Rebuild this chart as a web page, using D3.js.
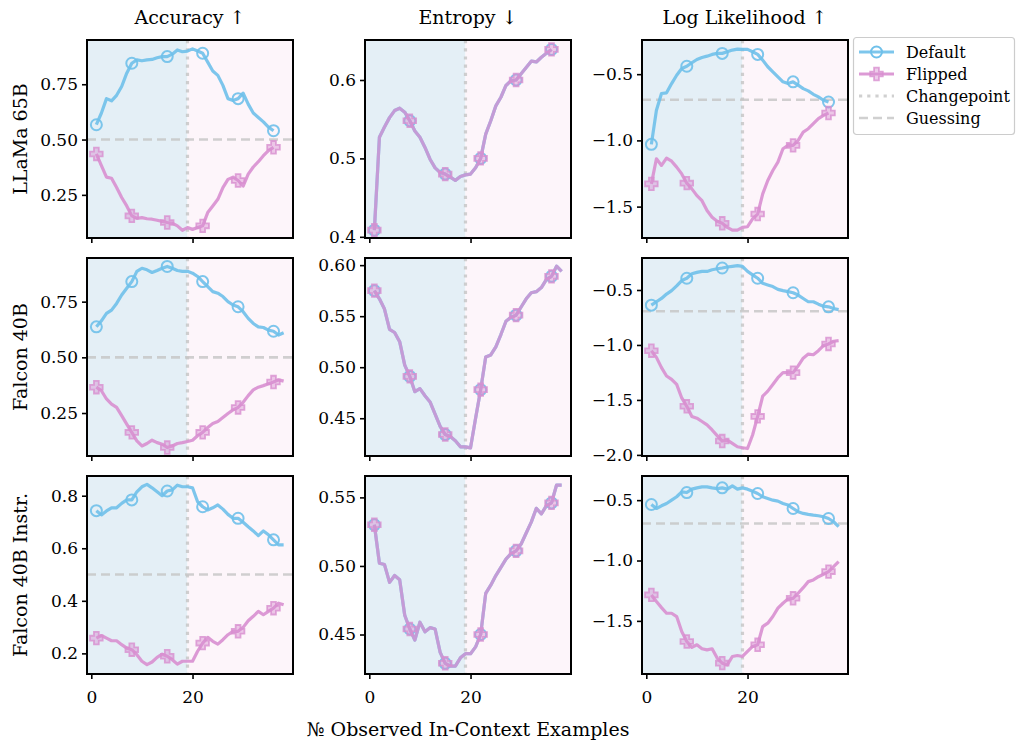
<!DOCTYPE html>
<html><head><meta charset="utf-8">
<script src="https://cdn.jsdelivr.net/npm/d3@7"></script>
<style>
body{margin:0;background:#fff;}
text{font-family:"DejaVu Serif",serif;fill:#000;}
</style></head>
<body>
<svg id="chart" width="1018" height="744"></svg>
<script>
const metrics = ["Accuracy ↑", "Entropy ↓", "Log Likelihood ↑"];
const models = ["LLaMa 65B", "Falcon 40B", "Falcon 40B Instr."];
const seriesNames = ["Default", "Flipped"];
const changepoint = 19;
const guessAcc = 0.5;
const guessLL = Math.log(0.5);
const xTicks = [0, 20];
const xDomain = [-0.85, 39.85];
const markEvery = 7;

// y ticks per [row][col]
const yTicks = [
  [[0.25, 0.50, 0.75], [0.4, 0.5, 0.6], [-1.5, -1.0, -0.5]],
  [[0.25, 0.50, 0.75], [0.45, 0.50, 0.55, 0.60], [-2.0, -1.5, -1.0, -0.5]],
  [[0.2, 0.4, 0.6, 0.8], [0.45, 0.50, 0.55], [-1.5, -1.0, -0.5]]
];
const yTickDecimals = [[2, 1, 1], [2, 2, 1], [1, 2, 1]];
const yLimits = [
  [[0.055, 0.95], [0.3985, 0.651], [-1.737, -0.242]],
  [[0.057, 0.946], [0.413, 0.607], [-2.01, -0.209]],
  [[0.1215, 0.875], [0.4212, 0.5656], [-1.94, -0.30]]
];

// ---- LLaMa 65B ----
const llamaAccDefault = [0.567,0.62,0.685,0.675,0.70,0.74,0.80,0.845,0.86,0.856,0.86,0.862,0.87,0.875,0.875,0.886,0.905,0.897,0.90,0.91,0.90,0.89,0.85,0.81,0.79,0.745,0.685,0.677,0.685,0.71,0.66,0.62,0.60,0.58,0.556,0.54];
const llamaAccFlipped = [0.435,0.382,0.33,0.325,0.283,0.238,0.20,0.155,0.144,0.147,0.142,0.14,0.135,0.13,0.125,0.122,0.11,0.09,0.102,0.094,0.102,0.11,0.17,0.20,0.23,0.283,0.32,0.33,0.315,0.29,0.344,0.376,0.40,0.427,0.45,0.465];
const llamaEntropy = [0.4085,0.527,0.54,0.552,0.561,0.564,0.559,0.548,0.535,0.527,0.514,0.499,0.488,0.482,0.48,0.476,0.472,0.477,0.479,0.48,0.488,0.50,0.531,0.548,0.567,0.578,0.593,0.599,0.60,0.608,0.616,0.624,0.623,0.629,0.634,0.639];
const llamaLLDefault = [-1.03,-0.773,-0.646,-0.641,-0.571,-0.508,-0.457,-0.44,-0.414,-0.389,-0.374,-0.364,-0.351,-0.343,-0.343,-0.331,-0.318,-0.311,-0.313,-0.313,-0.331,-0.351,-0.394,-0.444,-0.482,-0.52,-0.558,-0.571,-0.558,-0.583,-0.609,-0.626,-0.652,-0.672,-0.697,-0.71];
const llamaLLFlipped = [-1.328,-1.139,-1.189,-1.134,-1.157,-1.202,-1.253,-1.323,-1.366,-1.417,-1.455,-1.53,-1.58,-1.611,-1.626,-1.657,-1.677,-1.677,-1.657,-1.652,-1.593,-1.556,-1.404,-1.303,-1.227,-1.164,-1.063,-1.038,-1.038,-1.0,-0.937,-0.912,-0.874,-0.836,-0.811,-0.793];

// ---- Falcon 40B ----
const falconAccDefault = [0.637,0.664,0.697,0.712,0.742,0.78,0.81,0.84,0.886,0.90,0.893,0.881,0.89,0.90,0.908,0.90,0.89,0.886,0.886,0.878,0.863,0.84,0.818,0.795,0.788,0.773,0.75,0.735,0.727,0.705,0.675,0.652,0.637,0.634,0.622,0.617,0.60,0.61];
const falconAccFlipped = [0.366,0.35,0.313,0.29,0.275,0.238,0.20,0.163,0.125,0.102,0.113,0.128,0.117,0.11,0.095,0.102,0.113,0.117,0.122,0.128,0.148,0.163,0.185,0.203,0.212,0.23,0.248,0.264,0.275,0.298,0.328,0.354,0.366,0.373,0.381,0.389,0.399,0.393];
const falconEntropy = [0.575,0.567,0.557,0.537,0.534,0.525,0.502,0.491,0.476,0.479,0.472,0.466,0.454,0.442,0.434,0.432,0.428,0.422,0.422,0.421,0.45,0.478,0.51,0.512,0.52,0.532,0.545,0.549,0.551,0.559,0.567,0.573,0.574,0.578,0.586,0.589,0.599,0.594];
const falconLLDefault = [-0.638,-0.607,-0.577,-0.537,-0.506,-0.463,-0.414,-0.393,-0.353,-0.34,-0.331,-0.331,-0.316,-0.307,-0.30,-0.291,-0.285,-0.279,-0.285,-0.331,-0.362,-0.393,-0.439,-0.454,-0.469,-0.494,-0.506,-0.515,-0.525,-0.546,-0.577,-0.607,-0.607,-0.629,-0.647,-0.653,-0.669,-0.678];
const falconLLFlipped = [-1.052,-1.113,-1.206,-1.282,-1.313,-1.359,-1.482,-1.558,-1.65,-1.666,-1.696,-1.727,-1.773,-1.825,-1.874,-1.865,-1.895,-1.926,-1.935,-1.942,-1.819,-1.65,-1.466,-1.42,-1.359,-1.298,-1.252,-1.252,-1.252,-1.19,-1.12,-1.083,-1.089,-1.052,-1.006,-0.991,-0.966,-0.96];

// ---- Falcon 40B Instr. ----
const instrAccDefault = [0.743,0.727,0.742,0.754,0.754,0.771,0.784,0.784,0.815,0.834,0.843,0.83,0.815,0.80,0.818,0.822,0.84,0.834,0.834,0.83,0.777,0.758,0.746,0.754,0.765,0.749,0.729,0.714,0.714,0.699,0.682,0.666,0.648,0.666,0.651,0.632,0.613,0.613];
const instrAccFlipped = [0.258,0.268,0.258,0.248,0.248,0.233,0.22,0.214,0.195,0.17,0.157,0.167,0.185,0.197,0.189,0.176,0.159,0.17,0.17,0.17,0.208,0.239,0.261,0.246,0.235,0.252,0.271,0.284,0.284,0.299,0.324,0.341,0.36,0.347,0.36,0.372,0.391,0.385];
const instrEntropy = [0.530,0.502,0.501,0.488,0.493,0.49,0.464,0.454,0.446,0.459,0.452,0.455,0.454,0.437,0.429,0.427,0.427,0.433,0.436,0.436,0.441,0.45,0.48,0.486,0.493,0.499,0.505,0.509,0.511,0.516,0.524,0.532,0.542,0.538,0.544,0.546,0.559,0.559];
const instrLLDefault = [-0.536,-0.569,-0.547,-0.528,-0.50,-0.472,-0.431,-0.437,-0.409,-0.398,-0.39,-0.39,-0.398,-0.404,-0.398,-0.409,-0.382,-0.409,-0.398,-0.409,-0.426,-0.445,-0.472,-0.486,-0.50,-0.508,-0.528,-0.541,-0.569,-0.596,-0.61,-0.618,-0.624,-0.629,-0.638,-0.652,-0.679,-0.72];
const instrLLFlipped = [-1.285,-1.34,-1.39,-1.437,-1.437,-1.464,-1.588,-1.671,-1.72,-1.698,-1.731,-1.74,-1.731,-1.808,-1.85,-1.864,-1.795,-1.787,-1.795,-1.753,-1.712,-1.698,-1.547,-1.519,-1.464,-1.395,-1.354,-1.318,-1.313,-1.271,-1.225,-1.175,-1.161,-1.134,-1.114,-1.092,-1.051,-1.01];

const panelData = [
  [[llamaAccDefault, llamaAccFlipped], [llamaEntropy, llamaEntropy], [llamaLLDefault, llamaLLFlipped]],
  [[falconAccDefault, falconAccFlipped], [falconEntropy, falconEntropy], [falconLLDefault, falconLLFlipped]],
  [[instrAccDefault, instrAccFlipped], [instrEntropy, instrEntropy], [instrLLDefault, instrLLFlipped]]
];
const guessing = [guessAcc, null, guessLL];

// ---- layout & style ----
const colLeft = [87, 365, 642];
const rowTop = [40, 258, 476];
const pw = 206, ph = 198;
const blue = "#6fc0ea", pink = "#d88fd0";
const bgBlue = "#e4eff6", bgPink = "#fdf5fa";
const gridGray = "#c4c4c4";
const fontSize = 17;
const labelSize = 19;
const fontFam = "DejaVu Serif";

const svg = d3.select("#chart");
const fmtMinus = s => s.replace("-", "\u2212");

function plusPath(cx, cy, a, b) {
  return `M${cx-a},${cy-b}H${cx+a}V${cy-a}H${cx+b}V${cy+a}H${cx+a}V${cy+b}H${cx-a}V${cy+a}H${cx-b}V${cy-a}H${cx-a}Z`;
}

for (let r = 0; r < 3; r++) {
  for (let c = 0; c < 3; c++) {
    const x0 = colLeft[c], y0 = rowTop[r];
    const x = d3.scaleLinear().domain(xDomain).range([x0, x0 + pw]);
    const y = d3.scaleLinear().domain(yLimits[r][c]).range([y0 + ph, y0]);
    const g = svg.append("g");
    const clipId = `clip-${r}-${c}`;
    g.append("clipPath").attr("id", clipId).append("rect")
      .attr("x", x0).attr("y", y0).attr("width", pw).attr("height", ph);
    const inner = g.append("g").attr("clip-path", `url(#${clipId})`);

    inner.append("rect").attr("x", x0).attr("y", y0)
      .attr("width", x(changepoint) - x0).attr("height", ph).attr("fill", bgBlue);
    inner.append("rect").attr("x", x(changepoint)).attr("y", y0)
      .attr("width", x0 + pw - x(changepoint)).attr("height", ph).attr("fill", bgPink);

    if (guessing[c] !== null) {
      inner.append("line").attr("x1", x0).attr("x2", x0 + pw)
        .attr("y1", y(guessing[c])).attr("y2", y(guessing[c]))
        .attr("stroke", gridGray).attr("stroke-opacity", 0.8).attr("stroke-width", 2.6)
        .attr("stroke-dasharray", "9,5");
    }
    inner.append("line").attr("x1", x(changepoint)).attr("x2", x(changepoint))
      .attr("y1", y0).attr("y2", y0 + ph)
      .attr("stroke", gridGray).attr("stroke-opacity", 0.8).attr("stroke-width", 3.2)
      .attr("stroke-dasharray", "3.2,5");

    const [dDef, dFlip] = panelData[r][c];
    const line = d3.line().x((d, i) => x(i + 1)).y(d => y(d));
    inner.append("path").datum(dDef).attr("d", line)
      .attr("fill", "none").attr("stroke", blue).attr("stroke-width", 3.2)
      .attr("stroke-opacity", 0.9).attr("stroke-linejoin", "round");
    dDef.forEach((v, i) => {
      if (i % markEvery === 0) {
        inner.append("circle").attr("cx", x(i + 1)).attr("cy", y(v)).attr("r", 5.5)
          .attr("fill", "none").attr("stroke", blue).attr("stroke-width", 2).attr("stroke-opacity", 0.9);
      }
    });
    inner.append("path").datum(dFlip).attr("d", line)
      .attr("fill", "none").attr("stroke", pink).attr("stroke-width", 3.2)
      .attr("stroke-opacity", c === 1 ? 0.78 : 0.9).attr("stroke-linejoin", "round");
    dFlip.forEach((v, i) => {
      if (i % markEvery === 0) {
        inner.append("path").attr("d", plusPath(x(i + 1), y(v), 2.4, 6.3))
          .attr("fill", pink).attr("fill-opacity", 0.45)
          .attr("stroke", pink).attr("stroke-width", 1.8).attr("stroke-opacity", 0.8);
      }
    });

    const yAxis = d3.axisLeft(y).tickValues(yTicks[r][c])
      .tickFormat(v => fmtMinus(v.toFixed(yTickDecimals[r][c]))).tickSize(5).tickPadding(4);
    const ya = g.append("g").attr("transform", `translate(${x0},0)`).call(yAxis);
    ya.select(".domain").remove();
    ya.selectAll(".tick line").attr("stroke-width", 1.6);
    ya.selectAll("text").style("font-size", fontSize + "px").style("font-family", fontFam);

    const xAxis = d3.axisBottom(x).tickValues(xTicks).tickSize(5).tickPadding(12)
      .tickFormat(r === 2 ? d3.format("d") : () => "");
    const xa = g.append("g").attr("transform", `translate(0,${y0 + ph})`).call(xAxis);
    xa.select(".domain").remove();
    xa.selectAll(".tick line").attr("stroke-width", 1.6);
    xa.selectAll("text").style("font-size", fontSize + "px").style("font-family", fontFam);

    g.append("rect").attr("x", x0).attr("y", y0).attr("width", pw).attr("height", ph)
      .attr("fill", "none").attr("stroke", "#000").attr("stroke-width", 2);
  }
}

metrics.forEach((m, c) => {
  svg.append("text").attr("x", colLeft[c] + pw / 2).attr("y", 24)
    .attr("text-anchor", "middle").style("font-size", labelSize + "px").text(m);
});
models.forEach((m, r) => {
  svg.append("text")
    .attr("transform", `translate(27,${rowTop[r] + ph / 2}) rotate(-90)`)
    .attr("text-anchor", "middle").style("font-size", labelSize + "px").text(m);
});
svg.append("text").attr("x", colLeft[1] + pw / 2).attr("y", 736)
  .attr("text-anchor", "middle").style("font-size", labelSize + "px")
  .text("№ Observed In-Context Examples");

const lg = svg.append("g").attr("transform", "translate(853,37)");
lg.append("rect").attr("x", 0.5).attr("y", 0.5).attr("width", 161).attr("height", 97)
  .attr("rx", 3).attr("fill", "#fff").attr("fill-opacity", 0.8)
  .attr("stroke", "#cccccc").attr("stroke-width", 1.2);
const legendItems = [
  {name: seriesNames[0], type: "default"},
  {name: seriesNames[1], type: "flipped"},
  {name: "Changepoint", type: "cp"},
  {name: "Guessing", type: "guess"}
];
legendItems.forEach((it, i) => {
  const yy = 15 + i * 22;
  const x1 = 6, x2 = 41, xm = 23.5;
  if (it.type === "default") {
    lg.append("line").attr("x1", x1).attr("x2", x2).attr("y1", yy).attr("y2", yy)
      .attr("stroke", blue).attr("stroke-width", 3.2).attr("stroke-opacity", 0.9);
    lg.append("circle").attr("cx", xm).attr("cy", yy).attr("r", 5.5)
      .attr("fill", "none").attr("stroke", blue).attr("stroke-width", 2);
  } else if (it.type === "flipped") {
    lg.append("line").attr("x1", x1).attr("x2", x2).attr("y1", yy).attr("y2", yy)
      .attr("stroke", pink).attr("stroke-width", 3.2).attr("stroke-opacity", 0.9);
    lg.append("path").attr("d", plusPath(xm, yy, 2.4, 6.3))
      .attr("fill", pink).attr("fill-opacity", 0.45)
      .attr("stroke", pink).attr("stroke-width", 1.8).attr("stroke-opacity", 0.8);
  } else if (it.type === "cp") {
    lg.append("line").attr("x1", x1).attr("x2", x2).attr("y1", yy).attr("y2", yy)
      .attr("stroke", gridGray).attr("stroke-opacity", 0.8).attr("stroke-width", 3.2)
      .attr("stroke-dasharray", "3.2,5");
  } else {
    lg.append("line").attr("x1", x1).attr("x2", x2).attr("y1", yy).attr("y2", yy)
      .attr("stroke", gridGray).attr("stroke-opacity", 0.8).attr("stroke-width", 2.6)
      .attr("stroke-dasharray", "9,5");
  }
  lg.append("text").attr("x", 53).attr("y", yy + 6).style("font-size", "16px").text(it.name);
});
</script>
</body></html>
